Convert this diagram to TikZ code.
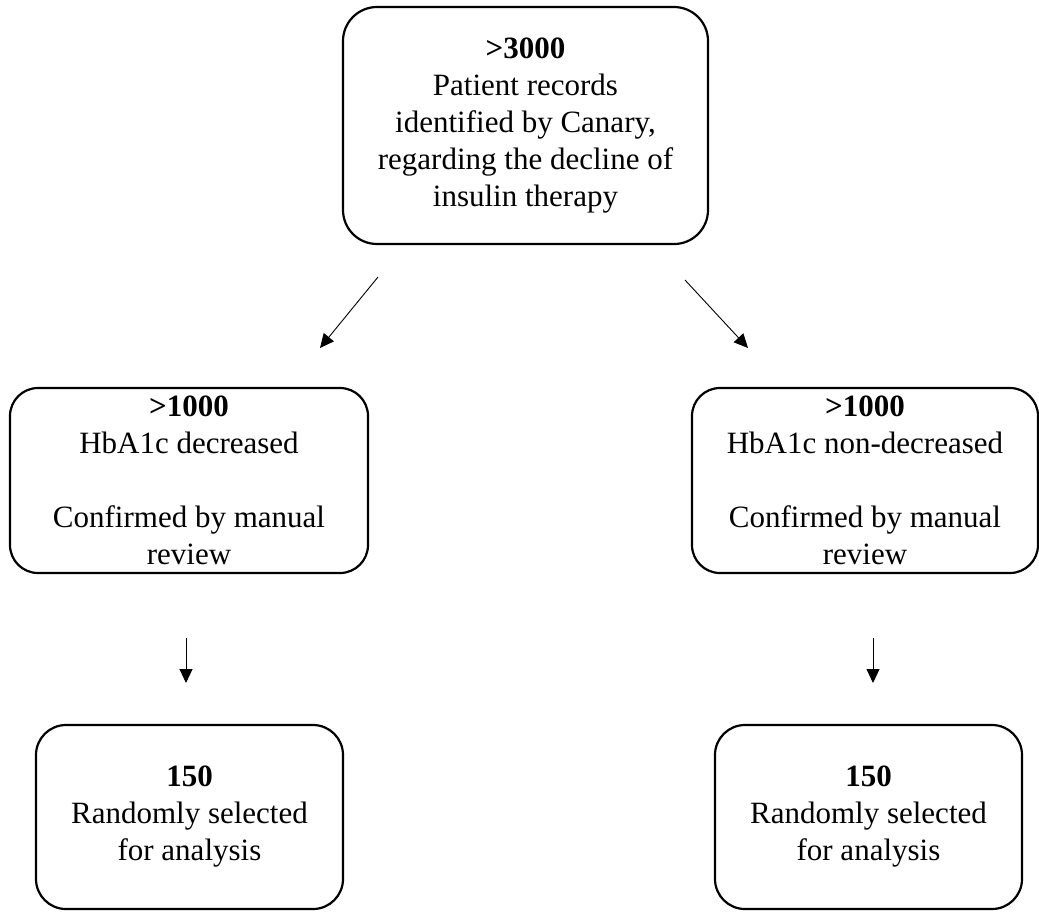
\documentclass[tikz,border=0pt]{standalone}
\usepackage{fontspec}
\setmainfont{Liberation Serif}
\usetikzlibrary{arrows.meta, positioning}

\begin{document}
\begin{tikzpicture}[
    x=0.5pt, y=-0.5pt,
    box/.style={
        rectangle, draw=black, line width=1.1pt,
        rounded corners=#1, inner sep=0pt,
        align=center, font=\fontsize{15.5}{18.5}\selectfont
    },
    box/.default=14pt,
    arr/.style={-{Triangle[length=7pt, width=6.5pt]}, line width=0.45pt}
]
    \useasboundingbox (0,0) rectangle (1039,911);

    %% --- Top: all records ---
    \node[box=17pt, minimum width=182.5pt, minimum height=118.5pt] (records) at (525.5,125.5)
        {\textbf{>3000}\\Patient records\\identified by Canary,\\regarding the decline of\\insulin therapy};

    %% --- Middle: HbA1c groups ---
    \node[box, minimum width=179pt, minimum height=92.5pt] (dec) at (189,480.5)
        {\textbf{>1000}\\HbA1c decreased\\[18.5pt]Confirmed by manual\\review};
    \node[box, minimum width=173pt, minimum height=92.5pt] (nondec) at (865,480.5)
        {\textbf{>1000}\\HbA1c non-decreased\\[18.5pt]Confirmed by manual\\review};

    %% --- Bottom: random samples ---
    \node[box=15pt, minimum width=153.5pt, minimum height=92pt] (selA) at (189.5,817)
        {\textbf{150}\\Randomly selected\\for analysis};
    \node[box=15pt, minimum width=153.5pt, minimum height=92pt] (selB) at (868.5,817)
        {\textbf{150}\\Randomly selected\\for analysis};

    %% --- Arrow ends ---
    \coordinate (rec-l) at (378,277);
    \coordinate (dec-in) at (320,348);
    \coordinate (rec-r) at (685,280);
    \coordinate (nondec-in) at (748,348);
    \coordinate (dec-out) at (186,638);
    \coordinate (selA-in) at (186,683);
    \coordinate (nondec-out) at (873,638);
    \coordinate (selB-in) at (873,683);

    %% --- Arrows ---
    \draw[arr] (rec-l) -- (dec-in);
    \draw[arr] (rec-r) -- (nondec-in);
    \draw[arr] (dec-out) -- (selA-in);
    \draw[arr] (nondec-out) -- (selB-in);
\end{tikzpicture}
\end{document}
